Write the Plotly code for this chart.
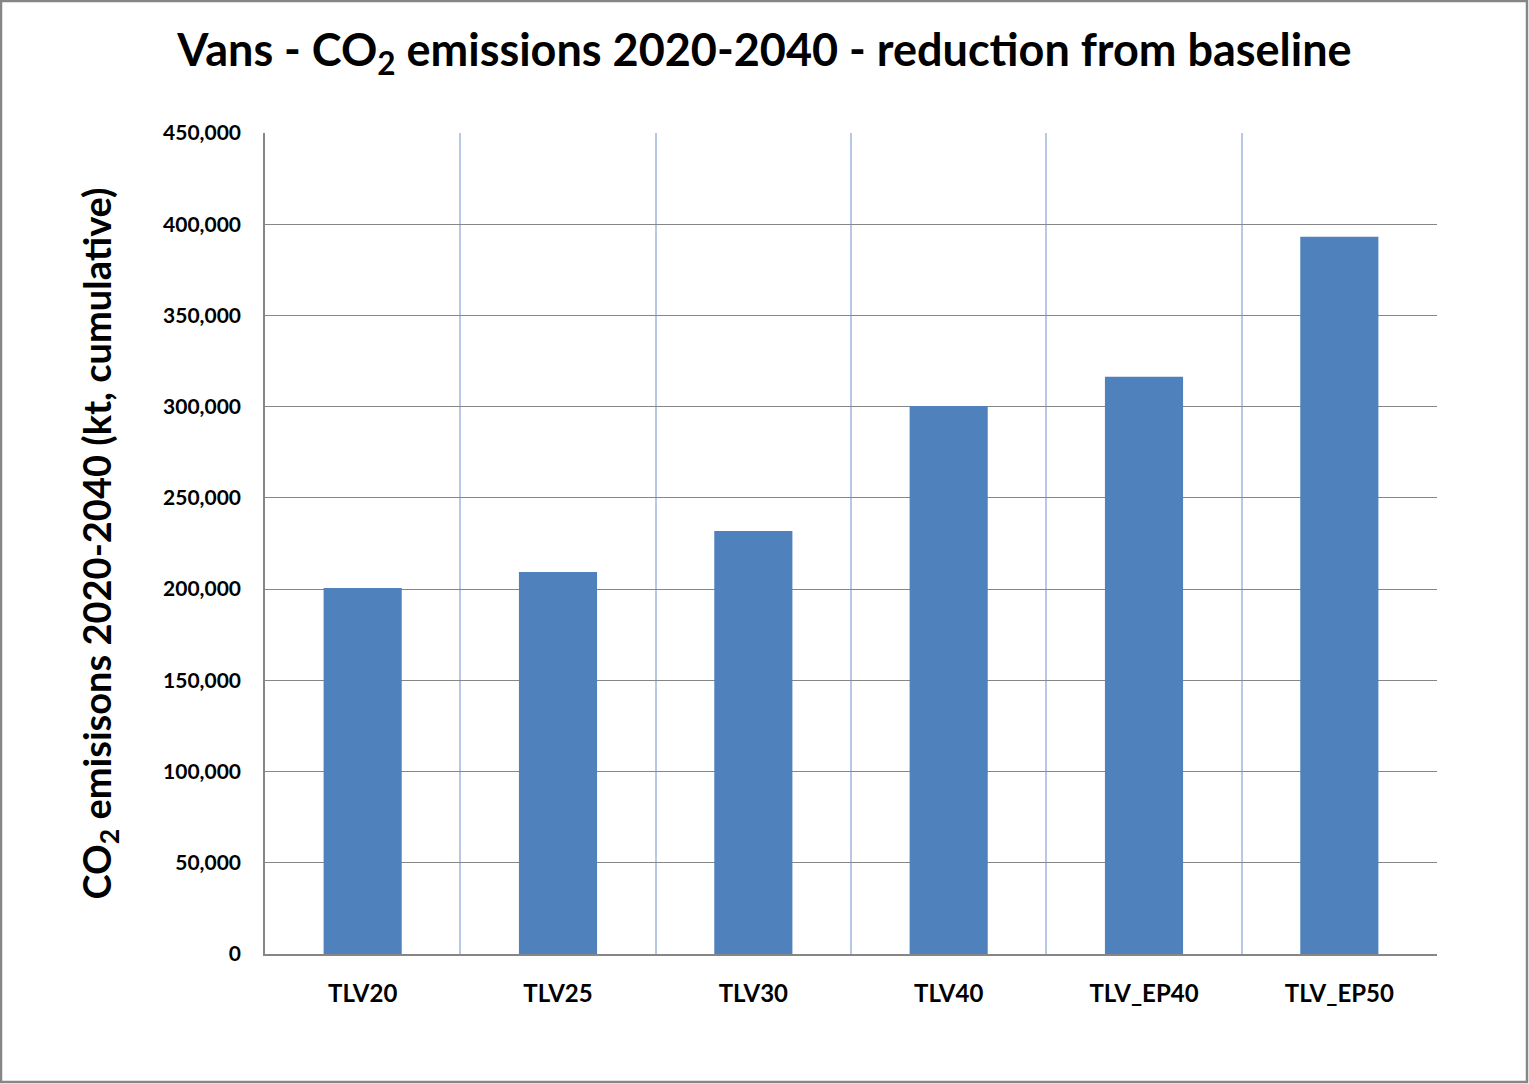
import plotly.graph_objects as go

categories = ["TLV20", "TLV25", "TLV30", "TLV40", "TLV_EP40", "TLV_EP50"]
values = [200600, 209400, 231900, 300400, 316400, 393200]
y_tickvals = [0, 50000, 100000, 150000, 200000, 250000, 300000, 350000, 400000, 450000]
y_ticktext = ["0", "50,000", "100,000", "150,000", "200,000", "250,000",
              "300,000", "350,000", "400,000", "450,000"]

W, H = 1529, 1084
L, R, T, B = 265, 92, 133, 130
pw, ph = W - L - R, H - T - B

font_family = "Lato, 'Open Sans', sans-serif"

fig = go.Figure(go.Bar(x=categories, y=values, marker_color="#4F81BD",
                       marker_line_width=0, width=0.4))

fig.update_layout(
    width=W, height=H,
    margin=dict(l=L, r=R, t=T, b=B, pad=0),
    paper_bgcolor="white", plot_bgcolor="white",
    font=dict(family=font_family, color="black"),
    showlegend=False,
    title=dict(text="<b>Vans - CO<sub>2</sub> emissions 2020-2040 - reduction from baseline</b>",
               x=0.5, xanchor="center", y=1 - 50 / H, yanchor="middle",
               font=dict(size=45, family=font_family)),
    bargap=0.6,
)

fig.update_xaxes(
    type="category", tickson="boundaries", showgrid=True, gridcolor="#B9C7E6", gridwidth=2,
    showline=True, linecolor="#868686", linewidth=1.5,
    ticks="", ticklabelstandoff=17,
    tickfont=dict(size=24, family=font_family), tickprefix="<b>", ticksuffix="</b>",
    range=[-0.5, 5.5],
)

fig.update_yaxes(
    range=[0, 450000], tickvals=y_tickvals, ticktext=["<b>%s</b>" % t for t in y_ticktext],
    showgrid=True, gridcolor="#868686", gridwidth=1.2,
    showline=True, linecolor="#868686", linewidth=1.5,
    ticks="", ticklabelstandoff=18, zeroline=False,
    tickfont=dict(size=21, family=font_family),
    title=dict(text="<b>CO<sub>2</sub> emisisons 2020-2040 (kt, cumulative)</b>",
               font=dict(size=38, family=font_family), standoff=40),
)

# outer border of the figure
fig.add_shape(type="rect", xref="paper", yref="paper",
              x0=(1 - L) / pw, x1=(W - 2 - L) / pw,
              y0=(H - B - (H - 2)) / ph, y1=(H - B - 1) / ph,
              line=dict(color="#868686", width=2.5), fillcolor="rgba(0,0,0,0)", layer="above")

fig.write_html("out.html", config={"displayModeBar": False},
               post_script="document.body.style.margin='0';document.body.style.padding='0';document.body.style.overflow='hidden';")
